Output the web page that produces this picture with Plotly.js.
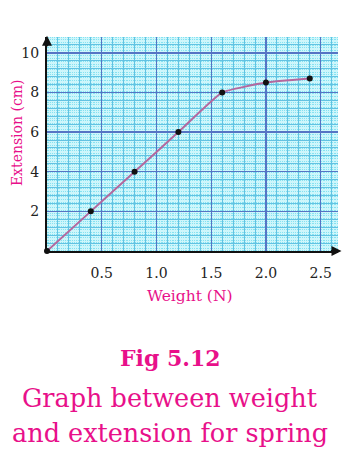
<!DOCTYPE html>
<html>
<head>
<meta charset="utf-8">
<script src="https://cdn.plot.ly/plotly-3.0.1.min.js"></script>
<style>html,body{margin:0;padding:0;background:#fff;}#chart{width:351px;height:459px;}</style>
</head>
<body>
<div id="chart"></div>
<script>
// Data
var weightN = [0, 0.4, 0.8, 1.2, 1.6, 2.0, 2.4];
var extensionCm = [0, 2, 4, 6, 8, 8.5, 8.7];
var xTickVals = [0.5, 1.0, 1.5, 2.0, 2.5];
var xTickText = ['0.5', '1.0', '1.5', '2.0', '2.5'];
var yTickVals = [2, 4, 6, 8, 10];
var yTickText = ['2', '4', '6', '8', '10'];

var PINK = '#e8108a';
var SERIF = 'DejaVu Serif, Liberation Serif, serif';
var XR = [0, 2.658], YR = [0, 10.8];

var traces = [
  {x: [], y: [], xaxis: 'x', yaxis: 'y', type: 'scatter', mode: 'markers', showlegend: false, hoverinfo: 'skip'},
  {
    x: weightN, y: extensionCm, xaxis: 'x2', yaxis: 'y2',
    type: 'scatter', mode: 'lines+markers',
    line: {color: '#b4689e', width: 2, shape: 'spline', smoothing: 0.35},
    marker: {color: '#111', size: 6},
    showlegend: false, cliponaxis: false
  }
];

function ann(x, y, text, size, extra) {
  var a = {xref: 'paper', yref: 'paper', x: x, y: y, text: text, showarrow: false,
           xanchor: 'center', yanchor: 'middle', font: {family: SERIF, size: size, color: PINK}};
  for (var k in (extra || {})) a[k] = extra[k];
  return a;
}

var layout = {
  width: 351, height: 459,
  margin: {l: 47, r: 13, t: 37, b: 208, pad: 0},
  paper_bgcolor: '#ffffff',
  plot_bgcolor: '#86e2f1',
  showlegend: false,
  xaxis: {
    range: XR, dtick: 0.1, tick0: 0, showgrid: true, gridcolor: '#62c2e2', gridwidth: 1,
    minor: {dtick: 0.02, tick0: 0, showgrid: true, gridcolor: '#cdf6fb', gridwidth: 1},
    showticklabels: false, ticks: '', zeroline: false, showline: false, fixedrange: true
  },
  yaxis: {
    range: YR, dtick: 0.4, tick0: 0, showgrid: true, gridcolor: '#62c2e2', gridwidth: 1,
    minor: {dtick: 0.08, tick0: 0, showgrid: true, gridcolor: '#cdf6fb', gridwidth: 1},
    showticklabels: false, ticks: '', zeroline: false, showline: false, fixedrange: true
  },
  xaxis2: {
    overlaying: 'x', anchor: 'y2', side: 'bottom', range: XR,
    tickmode: 'array', tickvals: xTickVals, ticktext: xTickText,
    showgrid: true, gridcolor: '#5674c4', gridwidth: 1.3,
    showline: true, linecolor: '#111', linewidth: 2,
    ticks: 'outside', ticklen: 8, tickcolor: 'rgba(0,0,0,0)',
    tickfont: {family: SERIF, size: 14, color: '#222'},
    zeroline: false, fixedrange: true
  },
  yaxis2: {
    overlaying: 'y', anchor: 'x2', side: 'left', range: YR,
    tickmode: 'array', tickvals: yTickVals, ticktext: yTickText,
    showgrid: true, gridcolor: '#5674c4', gridwidth: 1.3,
    showline: true, linecolor: '#111', linewidth: 2,
    ticks: 'outside', ticklen: 3, tickcolor: 'rgba(0,0,0,0)',
    tickfont: {family: SERIF, size: 14, color: '#222'},
    zeroline: false, fixedrange: true
  },
  annotations: [
    {xref: 'paper', yref: 'paper', x: 1.012, y: 0, ax: -12, ay: 0, text: '', showarrow: true,
     arrowhead: 2, arrowsize: 1, arrowwidth: 2, arrowcolor: '#111'},
    {xref: 'paper', yref: 'paper', x: 0, y: 1.006, ax: 0, ay: 12, text: '', showarrow: true,
     arrowhead: 2, arrowsize: 1, arrowwidth: 2, arrowcolor: '#111'},
    ann(-0.103, 0.551, 'Extension (cm)', 14, {textangle: -90}),
    ann(0.491, -0.21, 'Weight (N)', 15.5),
    ann(0.423, -0.50, '<b>Fig 5.12</b>', 22),
    ann(0.423, -0.687, 'Graph between weight', 25.5),
    ann(0.423, -0.85, 'and extension for spring', 25.5)
  ]
};

Plotly.newPlot('chart', traces, layout, {displayModeBar: false, staticPlot: true});
</script>
</body>
</html>
